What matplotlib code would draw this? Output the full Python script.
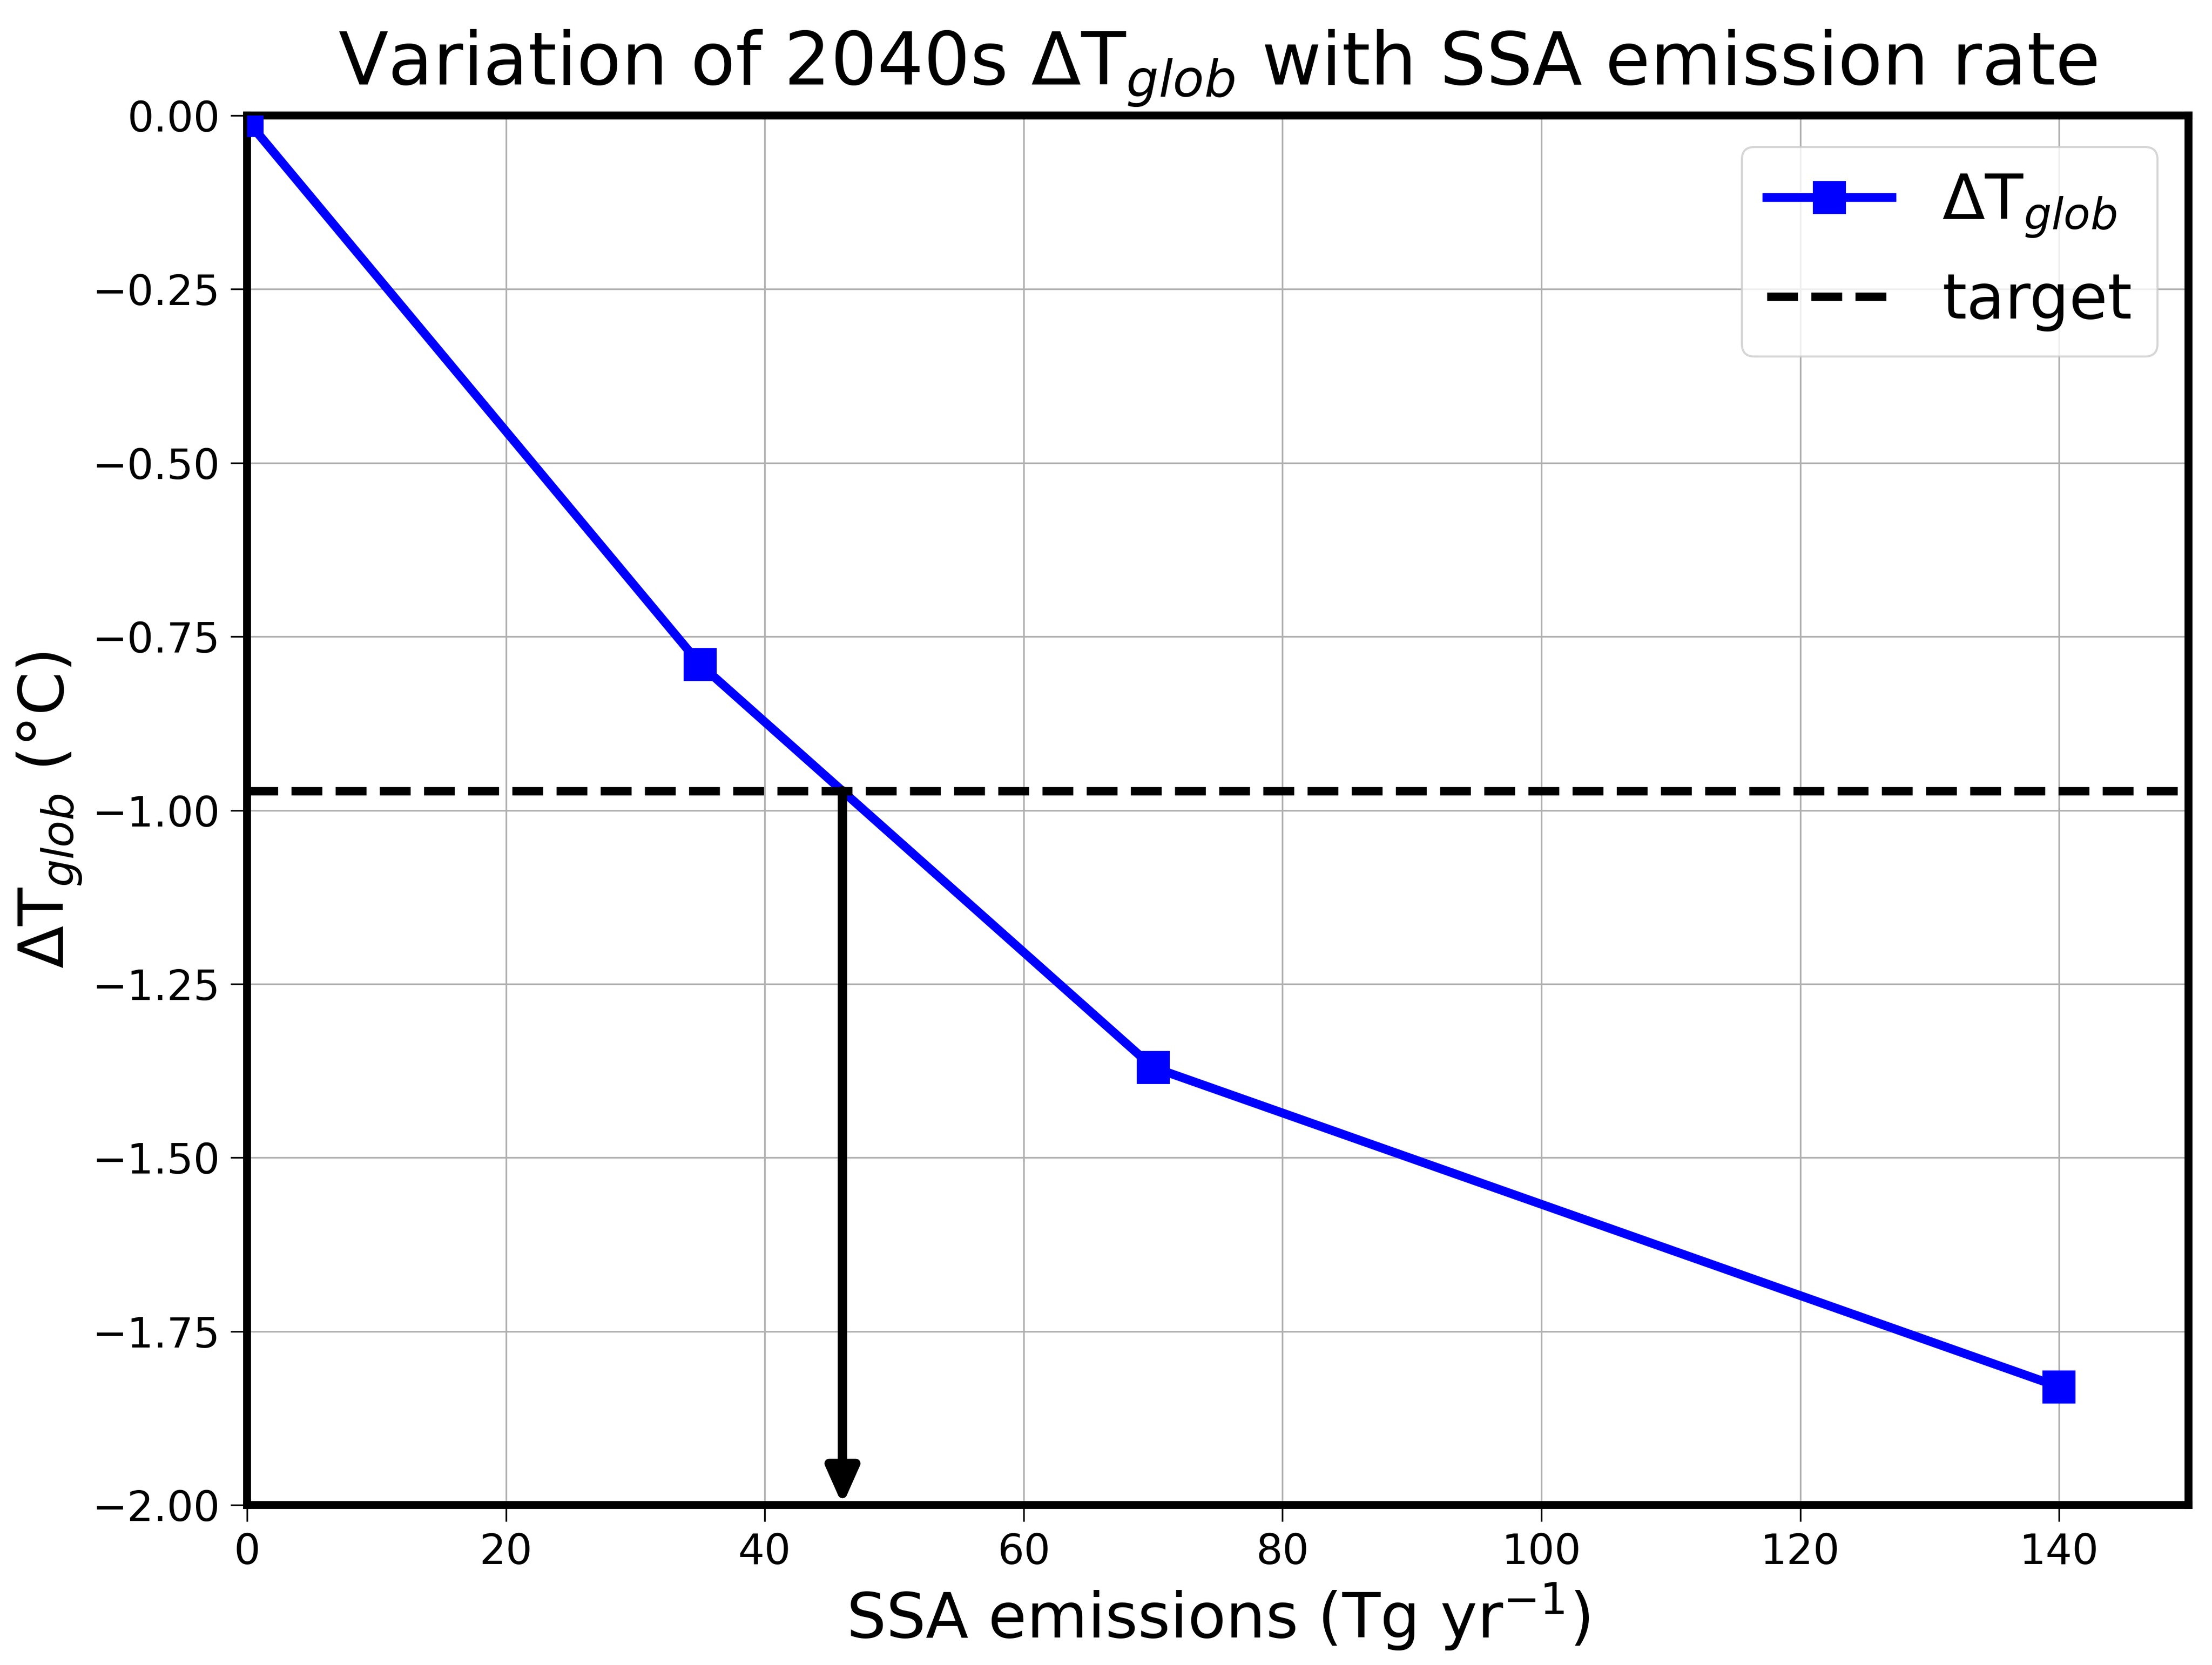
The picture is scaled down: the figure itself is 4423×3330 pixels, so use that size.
import matplotlib
matplotlib.use("Agg")
import matplotlib.pyplot as plt

# Data
ssa_emissions = [0, 35, 70, 140]
delta_t_glob = [-0.007, -0.79, -1.37, -1.83]
target_value = -0.972
target_emission = 46.0
x_ticks = [0, 20, 40, 60, 80, 100, 120, 140]
y_ticks = [0.0, -0.25, -0.5, -0.75, -1.0, -1.25, -1.5, -1.75, -2.0]

fig = plt.figure(figsize=(4423/300, 3330/300), dpi=300)
ax = fig.add_axes([0.1117, 0.0961, 0.9894-0.1117, 0.9306-0.0961])

ax.plot(ssa_emissions, delta_t_glob, color='b', marker='s', markersize=15,
        lw=4.2, label=r'ΔT$_{glob}$', zorder=3)
ax.axhline(target_value, color='k', ls='--', lw=4, label='target', zorder=3)
ax.annotate('', xy=(target_emission, -2.0), xytext=(target_emission, target_value),
            arrowprops=dict(arrowstyle='-|>,head_length=0.45,head_width=0.2',
                            lw=4.5, color='k', shrinkA=0, shrinkB=0,
                            mutation_scale=32),
            zorder=4)

ax.set_xlim(0, 150)
ax.set_ylim(-2, 0)
ax.set_xticks(x_ticks)
ax.set_yticks(y_ticks)
ax.grid(True, color='#b0b0b0', lw=0.8)
ax.set_axisbelow(True)
for s in ax.spines.values():
    s.set_linewidth(3.8)
ax.tick_params(labelsize=20, length=8, width=0.8, pad=5)

ax.set_xlabel(r'SSA emissions (Tg yr$^{-1}$)', fontsize=30)
ax.set_ylabel(r'ΔT$_{glob}$ (°C)', fontsize=30)
ax.set_title(r'Variation of 2040s ΔT$_{glob}$ with SSA emission rate', fontsize=35, pad=15)
ax.legend(loc='upper right', fontsize=30)

fig.savefig('out.png', dpi=300)
